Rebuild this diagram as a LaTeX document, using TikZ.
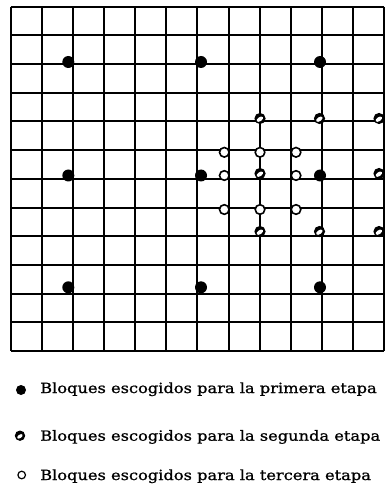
\documentclass[tikz,border=0pt]{standalone}
\usepackage{fontspec}
\setmainfont{DejaVu Serif}[FakeStretch=1.16,FakeBold=1]
\begin{document}
\begin{tikzpicture}[x=1pt,y=-1pt,
  gridline/.style={line width=2pt,black},
  firstdot/.style={fill=black},
  thirddot/.style={draw=black,line width=1.6pt,fill=white},
  legtext/.style={anchor=base west,inner sep=0pt,font=\fontsize{14pt}{16pt}\selectfont}]
\useasboundingbox (0,0) rectangle (389,494);
% grid
\foreach \k in {0,...,12} {
  \draw[gridline] ({10.7+31.13*\k},6.7) -- ({10.7+31.13*\k},351);
  \draw[gridline] (10.7,{6.7+28.69*\k}) -- (384.3,{6.7+28.69*\k});
}
% first stage
\foreach \x in {68.3,201,320} {
  \foreach \y in {62,175.5,287.3} {
    \fill[firstdot] (\x,\y) circle[radius=6pt];
  }
}
% second stage
\foreach \x/\y in {260/118.5,319.5/118.5,379/118.5,260/173.5,379/173.5,260/231.5,319.5/231.5,379/231.5} {
  \fill[black] (\x,\y) circle[radius=5.6pt];
  \begin{scope}[shift={(\x,\y)},rotate=35]
    \fill[white] (-0.5,0.5) ellipse[x radius=3.6pt,y radius=2pt];
  \end{scope}
}
% third stage
\foreach \x/\y in {224.3/152.3,260/152.3,296/152.3,224.3/175.5,296/175.5,224.3/209.5,260/209.5,296/209.5} {
  \draw[thirddot] (\x,\y) circle[radius=4.8pt];
}
% legend
\fill[firstdot] (21,390) circle[radius=5pt];
\fill[black] (20,435.7) circle[radius=5.2pt];
\begin{scope}[shift={(20,435.7)},rotate=35]
  \fill[white] (-0.5,0.5) ellipse[x radius=3.1pt,y radius=1.7pt];
\end{scope}
\draw[thirddot,line width=1.2pt] (21.7,475) circle[radius=3.8pt];
\node[legtext] (l1) at (40,393) {Bloques escogidos para la primera etapa};
\node[legtext] (l2) at (40,440.7) {Bloques escogidos para la segunda etapa};
\node[legtext] (l3) at (40,480) {Bloques escogidos para la tercera etapa};
\end{tikzpicture}
\end{document}
